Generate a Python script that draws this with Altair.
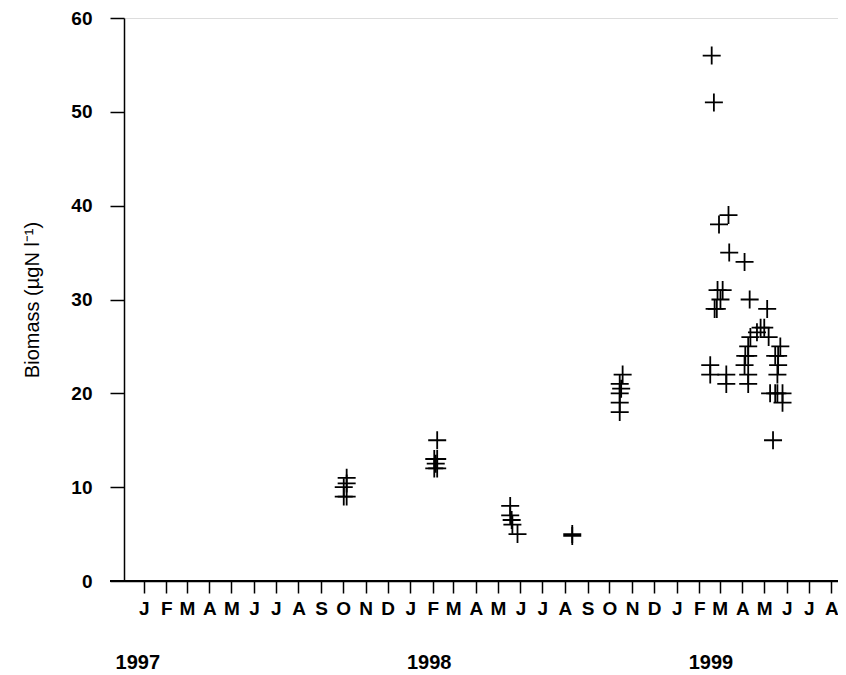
import altair as alt
import pandas as pd

# ---- data ----
sample_dates = [
    "1997-10-02", "1997-10-02", "1997-10-06", "1997-10-06", "1997-10-06",
    "1998-02-03", "1998-02-03", "1998-02-07", "1998-02-07", "1998-02-07", "1998-02-05",
    "1998-05-18", "1998-05-18", "1998-05-20", "1998-05-21", "1998-05-28",
    "1998-08-11", "1998-08-11",
    "1998-10-15", "1998-10-15", "1998-10-15", "1998-10-15", "1998-10-19", "1998-10-17",
    "1999-02-18", "1999-02-21", "1999-03-13", "1999-02-28", "1999-03-14", "1999-04-04",
    "1999-02-26", "1999-03-05", "1999-03-02", "1999-04-11", "1999-02-22", "1999-02-25",
    "1999-05-05", "1999-05-01", "1999-04-26", "1999-04-21", "1999-04-12", "1999-05-07",
    "1999-04-09", "1999-05-23", "1999-04-05", "1999-04-09", "1999-05-16", "1999-05-20",
    "1999-02-16", "1999-04-04", "1999-05-20", "1999-02-16", "1999-03-10", "1999-04-09",
    "1999-05-19", "1999-03-10", "1999-04-09", "1999-05-09", "1999-05-16", "1999-05-19",
    "1999-05-26", "1999-05-26", "1999-05-13",
]
biomass = [
    9, 10, 9, 10.4, 11,
    13, 12, 15, 13, 12, 12.5,
    8, 7, 6.5, 6, 5,
    5, 4.8,
    18, 19, 20, 21, 22, 20.5,
    56, 51, 39, 38, 35, 34,
    31, 31, 30, 30, 29, 29,
    29, 27, 27, 26.5, 26, 26,
    25, 25, 24, 24, 24, 24,
    23, 23, 23, 22, 22, 22,
    22, 21, 21, 20, 20, 20,
    20, 19, 15,
]
year_labels = ["1997", "1998", "1999"]
year_label_dates = ["1996-12-24", "1998-01-27", "1999-02-17"]

df = pd.DataFrame({"date": [d + "T00:00:00" for d in sample_dates], "biomass": biomass})
years_df = pd.DataFrame({"date": [d + "T00:00:00" for d in year_label_dates], "label": year_labels})

month_ticks = [alt.DateTime(year=1997 + (i // 12), month=(i % 12) + 1, date=1) for i in range(32)]

W, H = 714, 563
FONT = "Liberation Sans"

x_scale = alt.Scale(domain=[alt.DateTime(year=1996, month=12, date=5),
                            alt.DateTime(year=1999, month=8, date=10)])

x_axis = alt.Axis(values=month_ticks, labelExpr="substring(timeFormat(datum.value, '%b'), 0, 1)",
                  title=None, grid=False, tickSize=12, tickWidth=1.5, tickColor="black",
                  domainColor="black", domainWidth=1.5, labelFontSize=19, labelFontWeight="bold",
                  labelFont=FONT, labelColor="black", labelPadding=6, labelOverlap=False,
                  labelFlush=False, tickCount=32)

points = alt.Chart(df).mark_point(
    shape="M-1,0L1,0M0,-1L0,1", size=324, filled=False, color="black", strokeWidth=1.8, opacity=1
).encode(
    x=alt.X("date:T", scale=x_scale, axis=x_axis),
    y=alt.Y("biomass:Q", scale=alt.Scale(domain=[0, 60], nice=False),
            axis=alt.Axis(values=[0, 10, 20, 30, 40, 50, 60], title="Biomass (µgN l⁻¹)", grid=False,
                          tickSize=14, tickWidth=1.5, tickColor="black", domainColor="black",
                          domainWidth=1.5, labelFontSize=19, labelFontWeight="bold", labelFont=FONT,
                          labelColor="black", labelPadding=18, titleFont=FONT, titleFontSize=20,
                          titleFontWeight="normal", titleColor="black", titlePadding=28)),
)

years = alt.Chart(years_df).mark_text(
    fontSize=20, fontWeight="bold", font=FONT, color="black", baseline="middle", align="center"
).encode(
    x=alt.X("date:T", scale=x_scale, axis=x_axis),
    y=alt.value(H + 82),
    text="label:N",
)

baseline = alt.Chart(df).mark_rule(color="black", strokeWidth=1.5).encode(
    x=alt.value(-14), x2=alt.value(W), y=alt.value(H)
)

chart = alt.layer(points, years, baseline).properties(
    width=W, height=H,
    padding={"left": 116, "top": 10, "right": 0, "bottom": 92},
    autosize=alt.AutoSizeParams(type="none"),
).configure_view(stroke="black", strokeWidth=1.5).configure(background="white")

chart.save("out.html", embed_options={"renderer": "svg", "actions": False})
